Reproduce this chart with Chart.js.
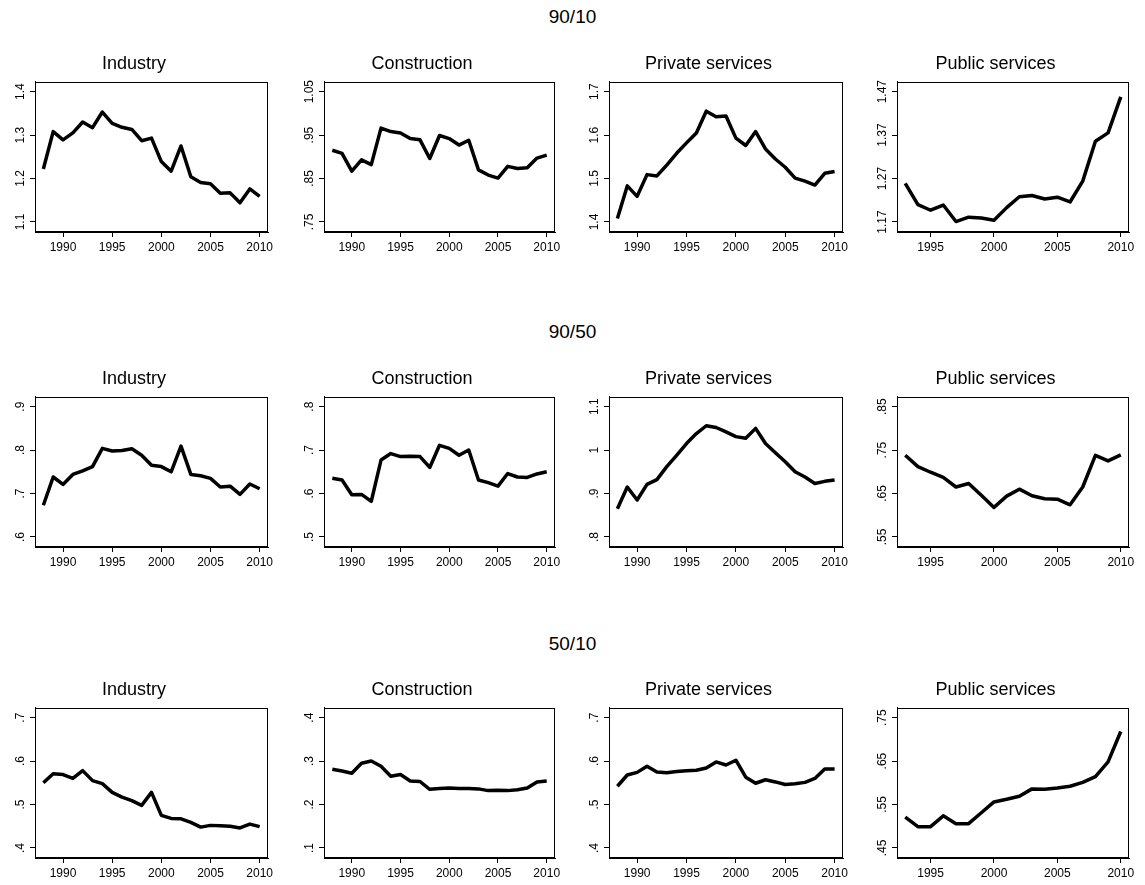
<!DOCTYPE html>
<html>
<head>
<meta charset="utf-8">
<script src="https://cdn.jsdelivr.net/npm/chart.js@4"></script>
<style>
    body { margin: 0; background: #fff; width: 1145px; height: 885px; position: relative; overflow: hidden; }
    canvas { position: absolute; }
    .rowTitle { position: absolute; left: 0; width: 1145px; height: 24px; line-height: 24px; text-align: center;
        font-family: "Liberation Sans", Arial, Helvetica, sans-serif; font-size: 19px; color: #000; }
</style>
</head>
<body>
<script>
const FONT = '"Liberation Sans", Arial, Helvetica, sans-serif';

const RATIOS = ["90/10", "90/50", "50/10"];
const SECTORS = ["Industry", "Construction", "Private services", "Public services"];

const years = [1988, 1989, 1990, 1991, 1992, 1993, 1994, 1995, 1996, 1997, 1998, 1999,
    2000, 2001, 2002, 2003, 2004, 2005, 2006, 2007, 2008, 2009, 2010];
const yearsPublic = [1993, 1994, 1995, 1996, 1997, 1998, 1999, 2000, 2001, 2002, 2003,
    2004, 2005, 2006, 2007, 2008, 2009, 2010];

const xTicks = [1990, 1995, 2000, 2005, 2010];
const xTicksPublic = [1995, 2000, 2005, 2010];

// 90/10
const ind9010 = [1.222, 1.308, 1.289, 1.305, 1.330, 1.317, 1.353, 1.327, 1.318, 1.313, 1.287, 1.293, 1.239, 1.217, 1.275, 1.204, 1.191, 1.188, 1.166, 1.167, 1.144, 1.176, 1.159];
const con9010 = [0.915, 0.908, 0.867, 0.893, 0.882, 0.966, 0.958, 0.955, 0.942, 0.939, 0.896, 0.949, 0.942, 0.927, 0.938, 0.870, 0.858, 0.851, 0.878, 0.873, 0.875, 0.897, 0.904];
const priv9010 = [1.408, 1.483, 1.459, 1.509, 1.506, 1.531, 1.558, 1.582, 1.605, 1.655, 1.642, 1.644, 1.593, 1.576, 1.608, 1.568, 1.545, 1.526, 1.501, 1.494, 1.485, 1.512, 1.516];
const pub9010 = [1.259, 1.210, 1.197, 1.209, 1.171, 1.181, 1.179, 1.174, 1.203, 1.228, 1.231, 1.223, 1.227, 1.216, 1.264, 1.356, 1.375, 1.458];

// 90/50
const ind9050 = [0.673, 0.738, 0.721, 0.744, 0.752, 0.762, 0.804, 0.798, 0.799, 0.803, 0.788, 0.765, 0.762, 0.750, 0.809, 0.744, 0.741, 0.735, 0.715, 0.717, 0.698, 0.722, 0.711];
const con9050 = [0.635, 0.631, 0.597, 0.598, 0.582, 0.677, 0.692, 0.685, 0.686, 0.685, 0.660, 0.711, 0.704, 0.688, 0.700, 0.631, 0.625, 0.617, 0.646, 0.638, 0.637, 0.645, 0.650];
const priv9050 = [0.865, 0.915, 0.885, 0.921, 0.932, 0.962, 0.988, 1.015, 1.038, 1.056, 1.052, 1.042, 1.031, 1.027, 1.050, 1.015, 0.994, 0.973, 0.950, 0.938, 0.923, 0.928, 0.931];
const pub9050 = [0.738, 0.712, 0.699, 0.687, 0.665, 0.673, 0.646, 0.618, 0.644, 0.660, 0.645, 0.638, 0.637, 0.624, 0.665, 0.738, 0.725, 0.739];

// 50/10
const ind5010 = [0.550, 0.571, 0.569, 0.560, 0.578, 0.555, 0.548, 0.528, 0.517, 0.509, 0.498, 0.528, 0.475, 0.468, 0.467, 0.459, 0.448, 0.452, 0.451, 0.450, 0.446, 0.455, 0.449];
const con5010 = [0.281, 0.277, 0.272, 0.295, 0.300, 0.288, 0.265, 0.269, 0.254, 0.253, 0.235, 0.237, 0.238, 0.237, 0.237, 0.236, 0.232, 0.233, 0.232, 0.234, 0.238, 0.252, 0.254];
const priv5010 = [0.542, 0.568, 0.574, 0.588, 0.575, 0.573, 0.576, 0.578, 0.579, 0.584, 0.598, 0.591, 0.602, 0.563, 0.549, 0.557, 0.552, 0.546, 0.548, 0.551, 0.560, 0.582, 0.582];
const pub5010 = [0.521, 0.499, 0.499, 0.524, 0.506, 0.506, 0.531, 0.556, 0.562, 0.569, 0.586, 0.585, 0.588, 0.592, 0.601, 0.614, 0.648, 0.718];

// y tick labels per panel
const ticks9010 = [[1.1, 1.2, 1.3, 1.4], [0.75, 0.85, 0.95, 1.05], [1.4, 1.5, 1.6, 1.7], [1.17, 1.27, 1.37, 1.47]];
const ticks9050 = [[0.6, 0.7, 0.8, 0.9], [0.5, 0.6, 0.7, 0.8], [0.8, 0.9, 1, 1.1], [0.55, 0.65, 0.75, 0.85]];
const ticks5010 = [[0.4, 0.5, 0.6, 0.7], [0.1, 0.2, 0.3, 0.4], [0.4, 0.5, 0.6, 0.7], [0.45, 0.55, 0.65, 0.75]];

const SERIES = [
    [ind9010, con9010, priv9010, pub9010],
    [ind9050, con9050, priv9050, pub9050],
    [ind5010, con5010, priv5010, pub5010],
];
const YTICKS = [ticks9010, ticks9050, ticks5010];

// layout of the plot boxes
const BOX_LEFT = [35, 324, 609, 897];
const BOX_W = [233, 231, 234, 232];
const BOX_TOP = [82, 397, 708];
const BOX_H = 150;
const TITLE_TOP = [17, 332, 644];

function stataLabel(v) {
    return String(+v.toFixed(2)).replace(/^0\./, ".");
}

// frame round the plot area
const frame = {
    id: "frame",
    afterDraw(chart) {
        const a = chart.chartArea;
        const ctx = chart.ctx;
        ctx.save();
        ctx.strokeStyle = "#000";
        ctx.lineWidth = 1;
        ctx.strokeRect(Math.round(a.left) + 0.5, Math.round(a.top) + 0.5,
            Math.round(a.right - a.left) - 1, Math.round(a.bottom - a.top) - 1);
        ctx.restore();
    }
};

// vertical y tick labels like stata
const yLabels = {
    id: "yLabels",
    afterDraw(chart) {
        const s = chart.scales.y;
        const ctx = chart.ctx;
        ctx.save();
        ctx.font = "12px " + FONT;
        ctx.fillStyle = "#000";
        ctx.textAlign = "center";
        ctx.textBaseline = "middle";
        s.ticks.forEach(t => {
            let y = s.getPixelForValue(t.value);
            ctx.save();
            ctx.translate(s.right - 14.5, y);
            ctx.rotate(-Math.PI / 2);
            ctx.fillText(stataLabel(t.value), 0, 0);
            ctx.restore();
        });
        ctx.restore();
    }
};

function makePanel(row, col) {
    let isPublic = col == 3;
    let xs = isPublic ? yearsPublic : years;
    let vals = SERIES[row][col];
    let yt = YTICKS[row][col];
    let xt = isPublic ? xTicksPublic : xTicks;
    let step = yt[1] - yt[0];
    let pad = step * 10 / 43.3;

    let canvas = document.createElement("canvas");
    canvas.width = BOX_W[col] + 35 + 12;
    canvas.height = 33 + BOX_H + 30;
    canvas.style.left = (BOX_LEFT[col] - 35) + "px";
    canvas.style.top = (BOX_TOP[row] - 33) + "px";
    document.body.appendChild(canvas);

    let axisGrid = { drawOnChartArea: false, drawTicks: true, tickLength: 5, color: "#000", tickColor: "#000", lineWidth: 1 };

    return new Chart(canvas, {
        type: "line",
        data: {
            datasets: [{
                data: xs.map((yr, i) => ({ x: yr, y: vals[i] })),
                borderColor: "#000",
                borderWidth: 3.5,
                borderJoinStyle: "round",
                pointRadius: 0,
                tension: 0,
                fill: false,
            }]
        },
        options: {
            responsive: false,
            animation: false,
            devicePixelRatio: 1,
            layout: { padding: { left: 0, right: 12, top: 0, bottom: 0 } },
            plugins: {
                legend: { display: false },
                tooltip: { enabled: false },
                title: {
                    display: true,
                    text: SECTORS[col],
                    color: "#000",
                    font: { family: FONT, size: 18, weight: "normal" },
                    padding: { top: 4, bottom: 7 },
                },
            },
            scales: {
                x: {
                    type: "linear",
                    min: isPublic ? 1992.35 : 1987.15,
                    max: isPublic ? 2010.65 : 2010.85,
                    afterBuildTicks: s => { s.ticks = xt.map(v => ({ value: v })); },
                    afterFit: s => { s.height = 30; },
                    ticks: {
                        autoSkip: false, maxRotation: 0, minRotation: 0, padding: 3,
                        color: "#000", font: { family: FONT, size: 12 },
                        callback: v => String(v),
                    },
                    grid: axisGrid,
                    border: { display: true, color: "#000", width: 1 },
                },
                y: {
                    min: yt[0] - pad,
                    max: yt[yt.length - 1] + pad,
                    afterBuildTicks: s => { s.ticks = yt.map(v => ({ value: v })); },
                    afterFit: s => { s.width = 35; },
                    ticks: { display: false },
                    grid: axisGrid,
                    border: { display: true, color: "#000", width: 1 },
                },
            },
        },
        plugins: [frame, yLabels],
    });
}

RATIOS.forEach((r, row) => {
    let div = document.createElement("div");
    div.className = "rowTitle";
    div.style.top = (TITLE_TOP[row] - 12) + "px";
    div.textContent = r;
    document.body.appendChild(div);
    for (let col = 0; col < 4; col++) {
        makePanel(row, col);
    }
});
</script>
</body>
</html>
